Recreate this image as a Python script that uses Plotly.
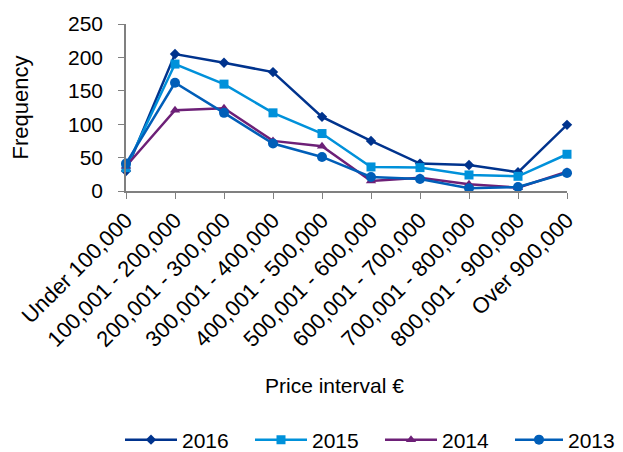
import plotly.graph_objects as go

# Price intervals (x categories)
intervals = ["Under 100,000", "100,001 - 200,000", "200,001 - 300,000",
             "300,001 - 400,000", "400,001 - 500,000", "500,001 - 600,000",
             "600,001 - 700,000", "700,001 - 800,000", "800,001 - 900,000",
             "Over 900,000"]

# Frequencies per year
freq_2016 = [30, 205, 192, 178, 111, 75, 41, 39, 28, 99]
freq_2015 = [35, 190, 160, 117, 86, 36, 35, 24, 22, 55]
freq_2014 = [37, 121, 124, 75, 67, 15, 20, 10, 5, 29]
freq_2013 = [41, 162, 117, 71, 51, 21, 18, 4, 6, 27]

series = [
    ("2016", freq_2016, "#00338D", "diamond", 8),
    ("2015", freq_2015, "#0091DA", "square", 9),
    ("2014", freq_2014, "#6D2077", "triangle-up", 9),
    ("2013", freq_2013, "#005EB8", "circle", 10),
]

# page body adds an 8px margin, so the figure is drawn 8px smaller
W, H = 615, 444
left, top, plot_w, plot_h = 118, 16, 441, 167
bottom_y = top + plot_h

fig = go.Figure()
legend_ids = ["legend", "legend2", "legend3", "legend4"]
for i, (name, vals, color, sym, size) in enumerate(series):
    fig.add_trace(go.Scatter(
        x=list(range(len(intervals))), y=vals, name=name, mode="lines+markers",
        line=dict(color=color, width=2.5),
        marker=dict(symbol=sym, size=size, color=color),
        cliponaxis=False, legend=legend_ids[i],
    ))

font = "Liberation Sans, Arial, sans-serif"
fig.update_layout(
    width=W, height=H,
    margin=dict(l=left, r=W - left - plot_w, t=top, b=H - bottom_y,
                autoexpand=False),
    plot_bgcolor="white", paper_bgcolor="white",
    font=dict(family=font, color="#000000", size=21),
    showlegend=True,
)
# one legend per series so the four entries sit at fixed positions
for i, lid in enumerate(legend_ids):
    fig.update_layout({lid: dict(
        orientation="h", x=(112 + 130 * i - left) / plot_w, xanchor="left",
        y=-(432 - bottom_y) / plot_h, yanchor="middle",
        font=dict(size=21), itemwidth=52 if i < 3 else 48,
        bgcolor="rgba(0,0,0,0)",
    )})

fig.update_xaxes(
    range=[0, 9], tickmode="array", tickvals=list(range(len(intervals))),
    ticktext=intervals, tickangle=-45, tickfont=dict(size=22),
    showline=True, linecolor="#808080", linewidth=1.5,
    ticks="outside", ticklen=6, tickcolor="#808080",
    showgrid=False, zeroline=False, automargin=False,
)
fig.update_yaxes(
    range=[0, 250], dtick=50, tickfont=dict(size=21),
    showline=True, linecolor="#808080", linewidth=1.5,
    ticks="outside", ticklen=6, tickcolor="#808080", ticklabelstandoff=11,
    showgrid=False, zeroline=False, automargin=False,
    title=dict(text="Frequency", font=dict(size=22), standoff=40),
)
fig.add_annotation(text="Price interval €", xref="paper", yref="paper",
                   x=(326 - left) / plot_w, y=-(377 - bottom_y) / plot_h,
                   xanchor="center", yanchor="middle",
                   showarrow=False, font=dict(size=21))

fig.write_html("out.html")
